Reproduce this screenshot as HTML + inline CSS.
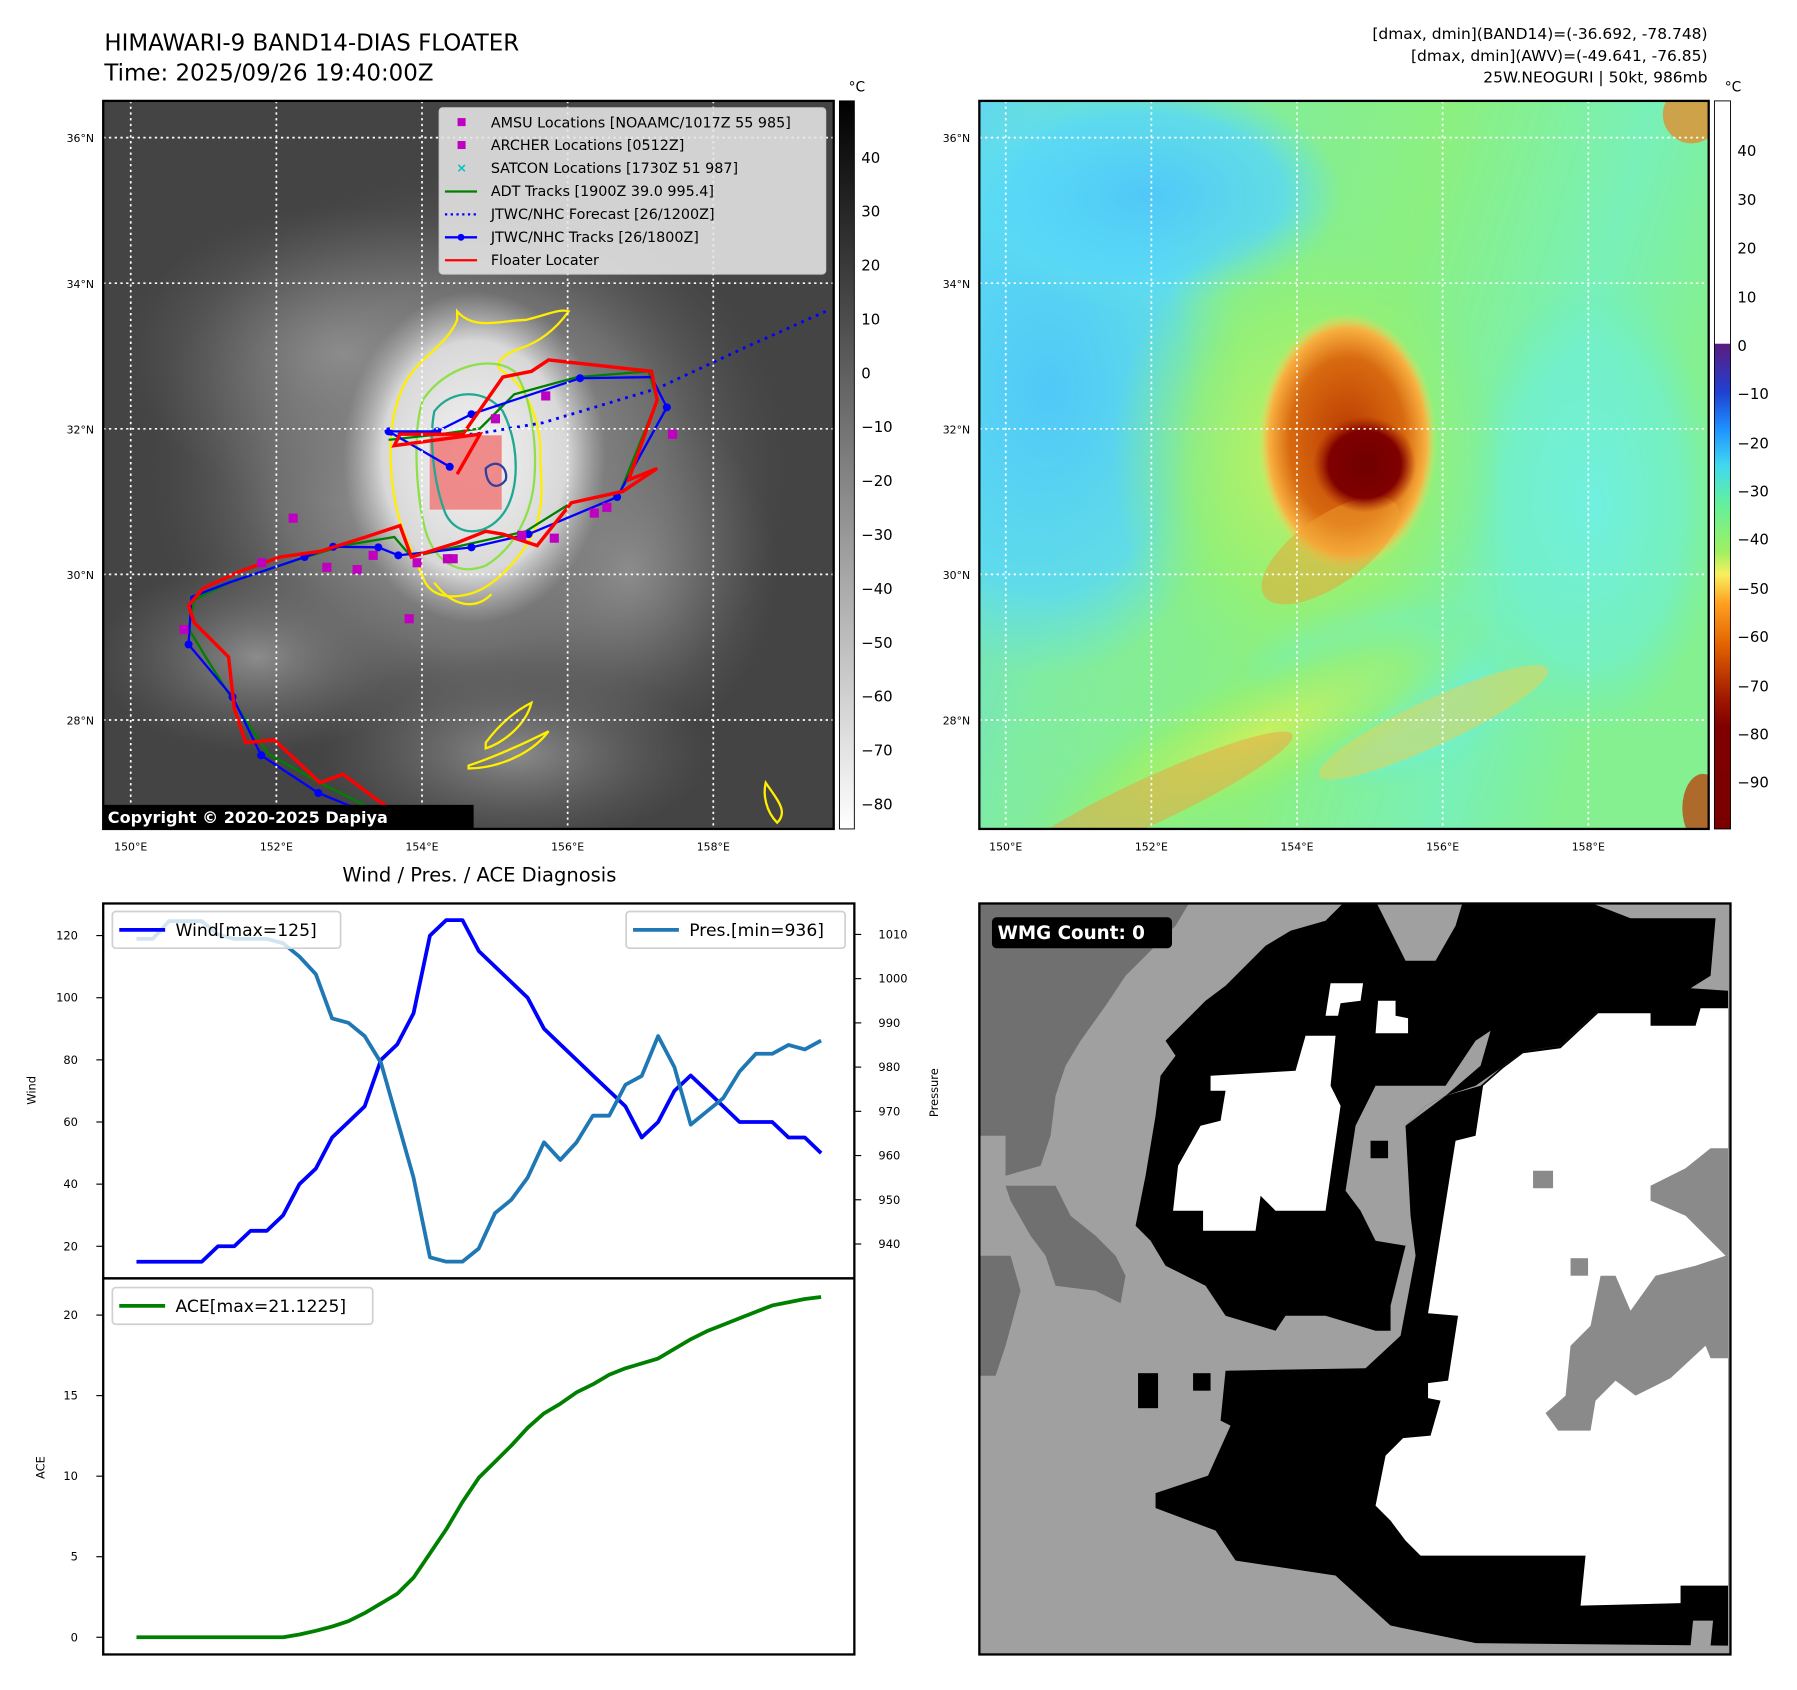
<!DOCTYPE html>
<html><head><meta charset="utf-8"><style>
html,body{margin:0;padding:0;background:#fff}
svg{display:block}
text{font-family:"DejaVu Sans","Liberation Sans",sans-serif}
</style></head><body>
<svg id="root" width="1797" height="1690" viewBox="0 0 1567 1474" preserveAspectRatio="none" xmlns="http://www.w3.org/2000/svg">
<defs>
  <linearGradient id="grayBar" x1="0" y1="0" x2="0" y2="1">
    <stop offset="0" stop-color="#000"/><stop offset="1" stop-color="#fff"/>
  </linearGradient>
  <linearGradient id="colBar" x1="0" y1="0" x2="0" y2="1">
    <stop offset="0" stop-color="#fff"/><stop offset="0.333" stop-color="#fff"/>
    <stop offset="0.334" stop-color="#5a1c80"/><stop offset="0.40" stop-color="#2040d0"/>
    <stop offset="0.45" stop-color="#1e90ff"/><stop offset="0.50" stop-color="#40d8f0"/>
    <stop offset="0.55" stop-color="#60f0a0"/><stop offset="0.62" stop-color="#a0f060"/>
    <stop offset="0.65" stop-color="#f8f060"/><stop offset="0.69" stop-color="#ffa020"/>
    <stop offset="0.75" stop-color="#e06000"/><stop offset="0.82" stop-color="#a01800"/>
    <stop offset="0.86" stop-color="#800000"/><stop offset="1" stop-color="#7a0000"/>
  </linearGradient>
  <radialGradient id="cloudBig"><stop offset="0" stop-color="#b8b8b8"/><stop offset="0.6" stop-color="#7a7a7a" stop-opacity="0.8"/><stop offset="1" stop-color="#555" stop-opacity="0"/></radialGradient>
  <radialGradient id="cloudCore"><stop offset="0" stop-color="#f4f4f4"/><stop offset="0.7" stop-color="#d8d8d8"/><stop offset="1" stop-color="#bbb" stop-opacity="0"/></radialGradient>
  <radialGradient id="bandG"><stop offset="0" stop-color="#8c8c8c"/><stop offset="1" stop-color="#6a6a6a" stop-opacity="0"/></radialGradient>
  <linearGradient id="rBase" x1="0" y1="0" x2="1" y2="0.3">
    <stop offset="0" stop-color="#60d8f0"/><stop offset="0.3" stop-color="#80eca0"/><stop offset="0.6" stop-color="#8cf080"/><stop offset="0.85" stop-color="#78f0b8"/><stop offset="1" stop-color="#84f090"/>
  </linearGradient>
  <radialGradient id="rBlue"><stop offset="0" stop-color="#50c8f8"/><stop offset="0.7" stop-color="#58d8f8" stop-opacity="0.8"/><stop offset="1" stop-color="#60e0f0" stop-opacity="0"/></radialGradient>
  <radialGradient id="rCyan"><stop offset="0" stop-color="#70f0e0"/><stop offset="0.7" stop-color="#70f0d0" stop-opacity="0.7"/><stop offset="1" stop-color="#70f0c0" stop-opacity="0"/></radialGradient>
  <radialGradient id="rGreen"><stop offset="0" stop-color="#c8f060"/><stop offset="0.6" stop-color="#98f070" stop-opacity="0.8"/><stop offset="1" stop-color="#88f080" stop-opacity="0"/></radialGradient>
  <radialGradient id="rOrange"><stop offset="0" stop-color="#b83800"/><stop offset="0.65" stop-color="#d86a10"/><stop offset="0.88" stop-color="#f8b040"/><stop offset="1" stop-color="#f0e060" stop-opacity="0"/></radialGradient>
  <radialGradient id="rEye"><stop offset="0" stop-color="#700000"/><stop offset="0.7" stop-color="#800000"/><stop offset="1" stop-color="#a02000" stop-opacity="0"/></radialGradient>
  <clipPath id="clipL"><rect x="90" y="88" width="637" height="635"/></clipPath>
  <clipPath id="clipR"><rect x="854" y="88" width="636" height="635"/></clipPath>
  <clipPath id="clipW"><rect x="854" y="788" width="655" height="655"/></clipPath>
</defs>

<text x="91" y="44" font-size="20">HIMAWARI-9 BAND14-DIAS FLOATER</text>
<text x="91" y="70" font-size="20">Time: 2025/09/26 19:40:00Z</text>
<g font-size="13.5" text-anchor="end">
  <text x="1489" y="34">[dmax, dmin](BAND14)=(-36.692, -78.748)</text>
  <text x="1489" y="53">[dmax, dmin](AWV)=(-49.641, -76.85)</text>
  <text x="1489" y="72">25W.NEOGURI | 50kt, 986mb</text>
</g>

<g clip-path="url(#clipL)">
  <rect x="90" y="88" width="637" height="635" fill="#444"/>
  <g transform="scale(0.4983)">
    <ellipse cx="820" cy="820" rx="560" ry="520" fill="url(#cloudBig)"/>
    <ellipse cx="600" cy="620" rx="380" ry="260" fill="url(#bandG)"/>
    <ellipse cx="450" cy="1150" rx="280" ry="170" fill="url(#bandG)"/>
    <ellipse cx="900" cy="1320" rx="340" ry="160" fill="url(#bandG)"/>
    <ellipse cx="1100" cy="1000" rx="260" ry="300" fill="url(#bandG)"/>
    <ellipse cx="830" cy="800" rx="230" ry="290" fill="url(#cloudCore)"/>
    <rect x="752" y="762" width="126" height="130" fill="#f08080" opacity="0.9"/>
    <path d="M700,690 C720,630 780,610 800,560 L800,545 C830,580 880,560 920,560 C960,550 980,540 995,545 C970,580 940,600 910,610 C880,620 860,640 880,650 C930,680 950,760 945,800 C950,860 950,900 930,940 C900,990 860,1030 820,1040 C780,1050 750,1040 740,1010 C720,960 700,930 690,870 C680,810 680,740 700,690 Z" fill="none" stroke="#ffee00" stroke-width="4"/>
    <path d="M740,700 C780,640 860,620 900,650 C930,690 940,780 935,840 C930,900 900,960 850,990 C800,1010 760,980 745,930 C730,880 720,760 740,700 Z" fill="none" stroke="#8ee04a" stroke-width="4"/>
    <path d="M760,720 C790,680 850,680 880,720 C910,780 910,860 880,900 C850,940 800,940 780,900 C760,850 750,770 760,720 Z" fill="none" stroke="#20a890" stroke-width="4"/>
    <path d="M850,820 C870,800 890,820 885,840 C870,860 850,850 850,820 Z" fill="none" stroke="#3040a0" stroke-width="4"/>
    <g fill="none" stroke="#ffee00" stroke-width="4">
      <path d="M850,1300 C880,1260 910,1240 930,1230 C920,1270 880,1300 850,1310 Z"/>
      <path d="M820,1340 C880,1320 940,1290 960,1280 C930,1320 870,1345 820,1345 Z"/>
      <path d="M1340,1370 C1360,1400 1380,1420 1360,1440 C1340,1420 1335,1390 1340,1370 Z"/>
      <path d="M760,1020 C790,1060 830,1070 860,1040"/>
    </g>
    <polyline points="1445,545 1300,610 1150,680 950,740 830,760 680,760" fill="none" stroke="#0000ff" stroke-width="5" stroke-dasharray="5 9"/>
    <polyline points="790,1475 700,1440 640,1410 560,1370 470,1320 410,1230 360,1150 330,1100 340,1050 400,1020 520,980 600,955 690,940 720,975 830,950 920,930 1000,880 1085,862 1150,700 1135,650 1010,660 900,690 840,750 770,760 680,770" fill="none" stroke="#008000" stroke-width="4"/>
    <polyline points="660,1430 557,1388 457,1322 407,1220 330,1128 335,1045 400,1020 533,975 583,957 662,958 697,972 825,958 925,935 1080,870 1167,713 1140,660 1015,662 825,725 765,755 680,755 787,817" fill="none" stroke="#0000ff" stroke-width="4"/>
    <g fill="#0000ff">
      <circle cx="660" cy="1430" r="7"/><circle cx="557" cy="1388" r="7"/><circle cx="457" cy="1322" r="7"/><circle cx="407" cy="1220" r="7"/><circle cx="330" cy="1128" r="7"/><circle cx="533" cy="975" r="7"/><circle cx="583" cy="957" r="7"/><circle cx="662" cy="958" r="7"/><circle cx="697" cy="972" r="7"/><circle cx="825" cy="958" r="7"/><circle cx="925" cy="935" r="7"/><circle cx="1080" cy="870" r="7"/><circle cx="1167" cy="713" r="7"/><circle cx="1015" cy="662" r="7"/><circle cx="825" cy="725" r="7"/><circle cx="765" cy="755" r="7"/><circle cx="680" cy="755" r="7"/><circle cx="787" cy="817" r="7"/>
    </g>
    <polyline points="790,1475 720,1440 660,1400 600,1355 560,1370 480,1295 430,1300 410,1240 400,1150 380,1130 340,1090 330,1060 355,1030 420,1000 490,975 560,965 640,940 700,920 720,975 800,950 850,930 880,935 940,955 1000,880 1090,860 1150,820 1100,840 1150,700 1140,650 960,630 930,650 880,660 810,760 700,760 690,780 840,760 800,830" fill="none" stroke="#ff0000" stroke-width="6"/>
    <g fill="#c000c0">
      <rect x="505" y="899" width="16" height="16"/><rect x="450" y="977" width="16" height="16"/><rect x="564" y="985" width="16" height="16"/><rect x="617" y="989" width="16" height="16"/><rect x="645" y="964" width="16" height="16"/><rect x="708" y="1075" width="16" height="16"/><rect x="775" y="970" width="16" height="16"/><rect x="785" y="970" width="16" height="16"/><rect x="859" y="725" width="16" height="16"/><rect x="947" y="685" width="16" height="16"/><rect x="1169" y="752" width="16" height="16"/><rect x="1032" y="890" width="16" height="16"/><rect x="1054" y="880" width="16" height="16"/><rect x="905" y="929" width="16" height="16"/><rect x="962" y="934" width="16" height="16"/><rect x="314" y="1094" width="16" height="16"/><rect x="722" y="977" width="16" height="16"/>
    </g>
  </g>
  <g stroke="#fff" stroke-width="1.5" stroke-dasharray="2 3">
    <line x1="114" y1="88" x2="114" y2="723"/><line x1="241" y1="88" x2="241" y2="723"/><line x1="368" y1="88" x2="368" y2="723"/><line x1="495" y1="88" x2="495" y2="723"/><line x1="622" y1="88" x2="622" y2="723"/>
    <line x1="90" y1="120" x2="727" y2="120"/><line x1="90" y1="247" x2="727" y2="247"/><line x1="90" y1="374" x2="727" y2="374"/><line x1="90" y1="501" x2="727" y2="501"/><line x1="90" y1="628" x2="727" y2="628"/>
  </g>
</g>
<rect x="90" y="88" width="637" height="635" fill="none" stroke="#000" stroke-width="2"/>
<g>
  <rect x="383" y="94" width="337" height="145" rx="3" fill="#e6e6e6" fill-opacity="0.88" stroke="#ccc"/>
  <g font-size="12.5">
    <rect x="399" y="103" width="7" height="7" fill="#c000c0"/><text x="428" y="111">AMSU Locations [NOAAMC/1017Z 55 985]</text>
    <rect x="399" y="123" width="7" height="7" fill="#c000c0"/><text x="428" y="131">ARCHER Locations [0512Z]</text>
    <text x="398" y="150" fill="#00c0c0" font-size="11" font-weight="bold">×</text><text x="428" y="151">SATCON Locations [1730Z 51 987]</text>
    <line x1="388" y1="167" x2="416" y2="167" stroke="#008000" stroke-width="2"/><text x="428" y="171">ADT Tracks [1900Z 39.0 995.4]</text>
    <line x1="388" y1="187" x2="416" y2="187" stroke="#0000ff" stroke-width="2" stroke-dasharray="2 3"/><text x="428" y="191">JTWC/NHC Forecast [26/1200Z]</text>
    <line x1="388" y1="207" x2="416" y2="207" stroke="#0000ff" stroke-width="2"/><circle cx="402" cy="207" r="3" fill="#0000ff"/><text x="428" y="211">JTWC/NHC Tracks [26/1800Z]</text>
    <line x1="388" y1="227" x2="416" y2="227" stroke="#ff0000" stroke-width="2"/><text x="428" y="231">Floater Locater</text>
  </g>
</g>
<g>
  <rect x="90" y="702" width="323" height="21" fill="#000"/>
  <text x="94" y="718" font-size="14" font-weight="bold" fill="#fff">Copyright © 2020-2025 Dapiya</text>
</g>
<g font-size="9.5" text-anchor="end">
  <text x="82" y="124">36°N</text><text x="82" y="251">34°N</text><text x="82" y="378">32°N</text><text x="82" y="505">30°N</text><text x="82" y="632">28°N</text>
</g>
<g font-size="9.5" text-anchor="middle">
  <text x="114" y="742">150°E</text><text x="241" y="742">152°E</text><text x="368" y="742">154°E</text><text x="495" y="742">156°E</text><text x="622" y="742">158°E</text>
</g>
<g>
  <rect x="732" y="88" width="13" height="635" fill="url(#grayBar)" stroke="#000" stroke-width="0.8"/>
  <text x="740" y="80" font-size="12">°C</text>
  <g font-size="13">
    <text x="751" y="142">40</text><text x="751" y="189">30</text><text x="751" y="236">20</text><text x="751" y="283">10</text><text x="751" y="330">0</text><text x="751" y="377">−10</text><text x="751" y="424">−20</text><text x="751" y="471">−30</text><text x="751" y="518">−40</text><text x="751" y="565">−50</text><text x="751" y="612">−60</text><text x="751" y="659">−70</text><text x="751" y="706">−80</text>
  </g>
</g>

<g clip-path="url(#clipR)">
  <rect x="854" y="88" width="636" height="635" fill="url(#rBase)"/>
  <ellipse cx="915" cy="340" rx="170" ry="250" fill="url(#rBlue)"/>
  <ellipse cx="1000" cy="170" rx="170" ry="100" fill="url(#rBlue)"/>
  <ellipse cx="1390" cy="440" rx="110" ry="200" fill="url(#rCyan)"/>
  <ellipse cx="1200" cy="600" rx="120" ry="90" fill="url(#rCyan)"/>
  <ellipse cx="1140" cy="400" rx="170" ry="210" fill="url(#rGreen)"/>
  <ellipse cx="1100" cy="640" rx="230" ry="60" fill="url(#rGreen)" transform="rotate(-25 1100 640)"/>
  <ellipse cx="1250" cy="630" rx="110" ry="20" fill="#f0d050" opacity="0.5" transform="rotate(-25 1250 630)"/>
  <ellipse cx="1000" cy="700" rx="140" ry="20" fill="#f0a040" opacity="0.5" transform="rotate(-25 1000 700)"/>
  <ellipse cx="1175" cy="385" rx="78" ry="112" fill="url(#rOrange)"/>
  <ellipse cx="1160" cy="480" rx="70" ry="30" fill="#f0a030" opacity="0.5" transform="rotate(-35 1160 480)"/>
  <ellipse cx="1190" cy="405" rx="45" ry="42" fill="url(#rEye)"/>
  <ellipse cx="1475" cy="100" rx="25" ry="25" fill="#f08020" opacity="0.7"/>
  <ellipse cx="1485" cy="705" rx="18" ry="30" fill="#c03000" opacity="0.7"/>
  <g stroke="#fff" stroke-width="1.5" stroke-dasharray="2 3">
    <line x1="877" y1="88" x2="877" y2="723"/><line x1="1004" y1="88" x2="1004" y2="723"/><line x1="1131" y1="88" x2="1131" y2="723"/><line x1="1258" y1="88" x2="1258" y2="723"/><line x1="1385" y1="88" x2="1385" y2="723"/>
    <line x1="854" y1="120" x2="1490" y2="120"/><line x1="854" y1="247" x2="1490" y2="247"/><line x1="854" y1="374" x2="1490" y2="374"/><line x1="854" y1="501" x2="1490" y2="501"/><line x1="854" y1="628" x2="1490" y2="628"/>
  </g>
</g>
<rect x="854" y="88" width="636" height="635" fill="none" stroke="#000" stroke-width="2"/>
<g font-size="9.5" text-anchor="end">
  <text x="846" y="124">36°N</text><text x="846" y="251">34°N</text><text x="846" y="378">32°N</text><text x="846" y="505">30°N</text><text x="846" y="632">28°N</text>
</g>
<g font-size="9.5" text-anchor="middle">
  <text x="877" y="742">150°E</text><text x="1004" y="742">152°E</text><text x="1131" y="742">154°E</text><text x="1258" y="742">156°E</text><text x="1385" y="742">158°E</text>
</g>
<g>
  <rect x="1495" y="88" width="14" height="635" fill="url(#colBar)" stroke="#000" stroke-width="0.8"/>
  <text x="1504" y="80" font-size="12">°C</text>
  <g font-size="13">
    <text x="1515" y="136">40</text><text x="1515" y="179">30</text><text x="1515" y="221">20</text><text x="1515" y="264">10</text><text x="1515" y="306">0</text><text x="1515" y="348">−10</text><text x="1515" y="391">−20</text><text x="1515" y="433">−30</text><text x="1515" y="475">−40</text><text x="1515" y="518">−50</text><text x="1515" y="560">−60</text><text x="1515" y="603">−70</text><text x="1515" y="645">−80</text><text x="1515" y="687">−90</text>
  </g>
</g>

<g clip-path="url(#clipW)">
  <rect x="854" y="788" width="655" height="655" fill="#a0a0a0"/>
  <g transform="translate(850.7,781.3) scale(0.436)">
    <polygon fill="#707070" points="0,10 430,10 400,60 350,110 300,160 260,220 210,290 180,340 160,400 150,480 130,540 60,560 60,480 0,480"/>
    <polygon fill="#707070" points="0,720 70,720 90,790 60,900 40,960 0,960"/>
    <polygon fill="#707070" points="60,580 160,580 190,640 240,680 280,720 300,760 290,815 240,790 160,780 140,720 110,680 70,610"/>
    <polygon fill="#000" points="380,290 420,250 460,210 500,180 540,140 580,100 630,70 700,50 740,10 800,10 830,70 860,130 920,130 960,60 975,10 1220,10 1310,45 1480,45 1470,160 1430,185 1505,190 1505,220 1440,230 1350,260 1240,235 1170,300 1100,310 1050,345 1000,380 940,400 900,420 860,460 850,520 840,620 860,700 830,820 830,870 800,870 700,840 620,840 600,870 500,840 460,780 380,740 350,690 320,660 340,560 360,440 370,360 400,320"/>
    <polygon fill="#a0a0a0" points="760,460 800,380 940,380 1000,290 1030,270 1010,340 940,400 900,420 860,460 845,620 860,700 800,690 770,630 740,590"/>
    <polygon fill="#fff" points="470,360 640,350 660,280 720,280 710,380 730,420 700,630 600,630 570,600 560,670 455,670 455,630 395,630 405,540 450,460 490,450 500,390 470,390"/>
    <polygon fill="#fff" points="710,175 775,175 770,210 730,215 725,240 700,240"/>
    <polygon fill="#fff" points="805,210 840,210 840,240 865,245 865,275 800,275"/>
    <polygon fill="#000" points="500,950 780,945 850,880 880,720 870,640 860,460 940,400 1010,380 1050,345 1100,310 1170,300 1240,235 1505,220 1505,1500 1000,1495 830,1460 720,1360 520,1330 480,1270 360,1225 360,1195 465,1160 510,1060 490,1050"/>
    <polygon fill="#fff" points="1055,345 1095,315 1170,305 1245,235 1350,235 1350,260 1440,260 1450,225 1505,225 1505,1380 1410,1380 1410,1415 1210,1420 1220,1320 890,1320 860,1290 830,1250 800,1220 820,1120 855,1085 910,1080 930,1010 905,1005 905,975 945,970 965,840 905,835 960,490 1000,480 1015,380"/>
    <polygon fill="#8a8a8a" points="1350,580 1420,545 1470,505 1505,505 1505,925 1470,925 1460,900 1390,965 1320,1000 1280,970 1240,1010 1230,1070 1165,1070 1140,1035 1180,1000 1190,900 1230,860 1250,760 1280,760 1310,830 1360,760 1440,740 1500,720 1470,690 1420,640 1350,610"/>
    <rect x="1115" y="550" width="40" height="35" fill="#8a8a8a"/>
    <rect x="1190" y="725" width="35" height="35" fill="#8a8a8a"/>
    <rect x="325" y="955" width="40" height="70" fill="#000"/>
    <rect x="435" y="955" width="35" height="35" fill="#000"/>
    <rect x="790" y="490" width="35" height="35" fill="#000"/>
    <polygon fill="#a0a0a0" points="0,1390 0,1515 990,1515 1000,1495 830,1460 760,1400 720,1360 520,1330 480,1270 360,1225 200,1300"/>
    <polygon fill="#a0a0a0" points="1435,1450 1475,1450 1470,1500 1430,1500"/>
  </g>
</g>
<rect x="854" y="788" width="655" height="655" fill="none" stroke="#000" stroke-width="2"/>
<g>
  <rect x="865" y="800" width="157" height="27" rx="4" fill="#000"/>
  <text x="870" y="819" font-size="16" font-weight="bold" fill="#fff">WMG Count: 0</text>
</g>

<text x="418" y="769" font-size="17" text-anchor="middle">Wind / Pres. / ACE Diagnosis</text>
<g id="chart"></g>
</svg>
<script>
const windValues = [15,15,15,15,15,20,20,25,25,30,40,45,55,60,65,80,85,95,120,125,125,115,110,105,100,90,85,80,75,70,65,55,60,70,75,70,65,60,60,60,55,55,50];
const presValues = [1009,1009,1013,1013,1013,1010,1009,1009,1009,1008,1005,1001,991,990,987,981,968,955,937,936,936,939,947,950,955,963,959,963,969,969,976,978,987,980,967,970,973,979,983,983,985,984,986];
const aceValues = [0,0,0,0,0,0,0,0,0,0,0.17,0.4,0.66,1.0,1.5,2.1,2.7,3.7,5.2,6.7,8.4,9.9,10.9,11.9,13.0,13.9,14.5,15.2,15.7,16.3,16.7,17.0,17.3,17.9,18.5,19.0,19.4,19.8,20.2,20.6,20.8,21.0,21.1225];
const windTicks = [20,40,60,80,100,120];
const presTicks = [940,950,960,970,980,990,1000,1010];
const aceTicks = [0,5,10,15,20];

const NS = 'http://www.w3.org/2000/svg';
const chart = document.getElementById('chart');
function xAt(i){ return 119 + i * (716 - 119) / (windValues.length - 1); }
function yWind(v){ return 1087 + (v - 20) * (816 - 1087) / 100; }
function yPres(v){ return 1085 + (v - 940) * (815 - 1085) / 70; }
function yAce(v){ return 1428 + v * (1147 - 1428) / 20; }
function mk(tag, attrs, parent){ const e = document.createElementNS(NS, tag); for (const k in attrs) e.setAttribute(k, attrs[k]); (parent||chart).appendChild(e); return e; }

let f1 = mk('rect', {x:90, y:788, width:655, height:327, fill:'none', stroke:'#000', 'stroke-width':2});


let f2 = mk('rect', {x:90, y:1115, width:655, height:328, fill:'none', stroke:'#000', 'stroke-width':2});



windTicks.forEach(v => {
  const y = yWind(v);
  mk('line', {x1:84, x2:90, y1:y, y2:y, stroke:'#000'});
  const t = mk('text', {x:68, y:y+3.5, 'font-size':10, 'text-anchor':'end'});
  t.textContent = v;
  
  
});
presTicks.forEach(v => {
  const y = yPres(v);
  mk('line', {x1:745, x2:751, y1:y, y2:y, stroke:'#000'});
  const t = mk('text', {x:766, y:y+3.5, 'font-size':10});
  t.textContent = v;
  
  
});
aceTicks.forEach(v => {
  const y = yAce(v);
  mk('line', {x1:84, x2:90, y1:y, y2:y, stroke:'#000'});
  const t = mk('text', {x:68, y:y+3.5, 'font-size':10, 'text-anchor':'end'});
  t.textContent = v;
  
  
});

let yt1 = mk('text', {x:0, y:0, 'font-size':10, 'text-anchor':'middle', transform:'translate(31,951) rotate(-90)'});
yt1.textContent = 'Wind';


let yt2 = mk('text', {x:0, y:0, 'font-size':10, 'text-anchor':'middle', transform:'translate(818,953) rotate(-90)'});
yt2.textContent = 'Pressure';


let yt3 = mk('text', {x:0, y:0, 'font-size':10, 'text-anchor':'middle', transform:'translate(39,1280) rotate(-90)'});
yt3.textContent = 'ACE';



function pts(arr, yf){ return arr.map((v,i) => xAt(i).toFixed(1) + ',' + yf(v).toFixed(1)).join(' '); }
let lw = mk('polyline', {points:pts(windValues, yWind), fill:'none', stroke:'#0000ff', 'stroke-width':3.3, 'stroke-linejoin':'round'});


let lp = mk('polyline', {points:pts(presValues, yPres), fill:'none', stroke:'#1f77b4', 'stroke-width':3.3, 'stroke-linejoin':'round'});


let la = mk('polyline', {points:pts(aceValues, yAce), fill:'none', stroke:'#008000', 'stroke-width':3.3, 'stroke-linejoin':'round'});



function legend(x, y, w, color, label, name){
  const g = mk('g', {});
  
  
  mk('rect', {x:x, y:y, width:w, height:32, rx:3, fill:'#fff', 'fill-opacity':0.8, stroke:'#d0d0d0', 'stroke-width':1.5}, g);
  mk('line', {x1:x+6, x2:x+46, y1:y+16, y2:y+16, stroke:color, 'stroke-width':3.3}, g);
  const t = mk('text', {x:x+55, y:y+21.5, 'font-size':15}, g);
  t.textContent = label;
}
legend(98, 795, 199, '#0000ff', 'Wind[max=125]', 'wind-legend');
legend(546, 795, 191, '#1f77b4', 'Pres.[min=936]', 'pressure-legend');
legend(98, 1123, 227, '#008000', 'ACE[max=21.1225]', 'ace-legend');
</script>
</body></html>
